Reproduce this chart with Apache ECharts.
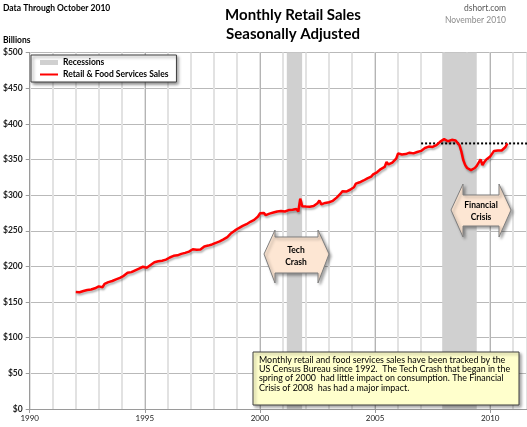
<!DOCTYPE html>
<html>
<head>
<meta charset="utf-8">
<script src="https://cdn.jsdelivr.net/npm/echarts@6/dist/echarts.min.js"></script>
<style>
  html, body { margin: 0; padding: 0; background: #fff; }
  #main { width: 527px; height: 427px; }
</style>
</head>
<body>
<div id="main"></div>
<script>
// monthly retail & food services sales, billions, SA — Jan 1992 .. Oct 2010
const startYear = 1992
const salesValues = [
  164.1, 164.3, 163.8, 164.7, 165.5, 166.0, 166.9, 166.7, 167.6, 169.2, 169.3, 171.0, // 1992
  172.0, 174.5, 170.8, 175.5, 177.0, 178.0, 178.8, 179.5, 180.5, 181.8, 183.0, 184.0, // 1993
  185.5, 186.8, 189.5, 191.0, 190.5, 192.0, 192.5, 194.5, 195.5, 197.0, 198.2, 199.5, // 1994
  200.6, 198.0, 200.5, 202.0, 203.5, 205.8, 206.2, 207.2, 207.8, 208.0, 208.9, 209.5, // 1995
  210.0, 212.5, 213.5, 214.8, 215.8, 215.5, 216.8, 217.6, 218.2, 219.0, 220.3, 220.8, // 1996
  222.5, 224.0, 225.4, 223.5, 221.8, 223.8, 226.5, 228.0, 228.5, 229.2, 230.0, 230.8, // 1997
  231.8, 233.0, 233.6, 235.0, 236.5, 237.8, 239.5, 241.0, 243.5, 246.5, 248.5, 250.5, // 1998
  252.5, 253.8, 255.3, 256.8, 258.0, 259.2, 260.8, 262.6, 264.5, 265.3, 267.5, 270.0, // 1999
  274.5, 276.0, 275.0, 272.0, 272.5, 274.0, 274.8, 275.5, 277.5, 277.0, 276.5, 277.8, // 2000
  278.5, 277.0, 277.5, 279.0, 280.0, 279.5, 279.8, 280.5, 277.0, 295.0, 284.5, 282.5, // 2001
  284.0, 284.5, 283.8, 285.5, 284.6, 286.0, 288.5, 292.5, 287.0, 287.8, 289.0, 290.5, // 2002
  290.0, 288.5, 292.0, 294.5, 296.5, 298.0, 302.0, 305.5, 304.5, 305.0, 306.8, 307.5, // 2003
  309.5, 311.0, 316.0, 315.5, 318.0, 316.5, 320.5, 320.0, 323.5, 325.0, 326.0, 329.0, // 2004
  329.0, 332.0, 334.0, 336.5, 335.5, 339.5, 346.5, 343.0, 343.5, 345.5, 347.5, 351.0, // 2005
  358.5, 356.5, 357.0, 358.0, 357.5, 357.0, 359.5, 360.0, 358.5, 358.0, 360.5, 362.5, // 2006
  362.0, 363.5, 366.0, 365.0, 368.0, 366.5, 367.5, 368.5, 370.0, 371.0, 375.0, 373.5, // 2007
  378.5, 377.0, 375.5, 376.0, 377.5, 378.0, 376.5, 375.0, 370.0, 361.0, 349.0, 342.0, // 2008
  338.0, 337.0, 335.0, 337.0, 338.0, 341.0, 340.0, 350.0, 342.0, 346.5, 350.0, 351.5, // 2009
  354.0, 355.5, 362.0, 364.5, 362.5, 361.0, 362.5, 364.5, 367.5, 372.5              // 2010
]

const recessionStarts = [2001.167, 2007.917]
const recessionEnds = [2001.833, 2009.417]

// dotted reference level (latest reading)
const levelValue = 372.5
const levelFrom = 2007.0

const xMin = 1990
const xMax = 2011.6
const yMax = 500

const FONT = 'Lato, "Liberation Sans", sans-serif'

const salesData = salesValues.map((v, i) => [startYear + i / 12, v])

function arrowPoints(l, r, headW, yTip, headTop, headBot, bodyTop, bodyBot) {
  return [
    [l, yTip], [l + headW, headTop], [l + headW, bodyTop],
    [r - headW, bodyTop], [r - headW, headTop], [r, yTip],
    [r - headW, headBot], [r - headW, bodyBot],
    [l + headW, bodyBot], [l + headW, headBot]
  ]
}

const shapeShadow = {
  shadowColor: 'rgba(0, 0, 0, 0.35)',
  shadowBlur: 3,
  shadowOffsetX: 2,
  shadowOffsetY: 2
}

const chart = echarts.init(document.getElementById('main'))

chart.setOption({
  animation: false,
  textStyle: { fontFamily: FONT },
  grid: {
    left: 26,
    right: 0,
    top: 52.5,
    bottom: 18,
    containLabel: false
  },
  legend: {
    orient: 'vertical',
    left: 31,
    top: 55,
    backgroundColor: '#fff',
    borderColor: '#3f3f3f',
    borderWidth: 1,
    borderRadius: 0,
    shadowColor: 'rgba(0, 0, 0, 0.45)',
    shadowBlur: 3,
    shadowOffsetX: 2,
    shadowOffsetY: 2,
    padding: [3, 8, 3, 8],
    itemGap: 3,
    itemWidth: 18,
    itemHeight: 5,
    textStyle: {
      fontFamily: FONT,
      fontSize: 8.5,
      fontWeight: 'bold',
      color: '#000'
    },
    data: [
      { name: 'Recessions', icon: 'rect' },
      { name: 'Retail & Food Services Sales', itemStyle: { opacity: 0 } }
    ]
  },
  xAxis: [
    {
      // yearly light gridlines
      type: 'value',
      position: 'top',
      min: xMin,
      max: xMax,
      interval: 1,
      axisLine: { show: false },
      axisTick: { show: false },
      axisLabel: { show: false },
      splitLine: {
        show: true,
        lineStyle: { color: '#e2e2e2', width: 2 }
      }
    },
    {
      type: 'value',
      position: 'bottom',
      min: xMin,
      max: xMax,
      interval: 5,
      axisLine: {
        show: true,
        lineStyle: { color: '#9a9a9a', width: 1 }
      },
      axisTick: {
        show: true,
        length: 4,
        lineStyle: { color: '#9a9a9a' }
      },
      axisLabel: {
        fontFamily: FONT,
        fontSize: 8,
        color: '#222',
        margin: 5,
        showMaxLabel: false,
        formatter: v => (v % 5 === 0 ? String(v) : '')
      },
      splitLine: {
        show: true,
        showMaxLine: false,
        lineStyle: { color: '#b4b4b4', width: 1 }
      }
    }
  ],
  yAxis: {
    type: 'value',
    min: 0,
    max: yMax,
    interval: 50,
    axisLine: {
      show: true,
      lineStyle: { color: '#9a9a9a' }
    },
    axisTick: {
      show: true,
      length: 4,
      lineStyle: { color: '#9a9a9a' }
    },
    axisLabel: {
      fontFamily: FONT,
      fontSize: 8.5,
      fontWeight: 'bold',
      color: '#222',
      margin: 7,
      formatter: v => '$' + v
    },
    splitLine: {
      lineStyle: { color: '#b9b9b9', width: 1 }
    }
  },
  series: [
    {
      name: 'Recessions',
      type: 'line',
      xAxisIndex: 1,
      data: [],
      itemStyle: { color: '#d0d0d0' },
      lineStyle: { color: '#d0d0d0' },
      markArea: {
        silent: true,
        itemStyle: { color: '#d0d0d0', opacity: 1 },
        data: recessionStarts.map((s, i) => [{ xAxis: s }, { xAxis: recessionEnds[i] }])
      },
      z: 1
    },
    {
      name: 'Latest level',
      type: 'line',
      xAxisIndex: 1,
      data: [[levelFrom, levelValue], [xMax, levelValue]],
      symbol: 'none',
      silent: true,
      lineStyle: { color: '#000', width: 2, type: [2, 2] },
      z: 3
    },
    {
      name: 'Retail & Food Services Sales',
      type: 'line',
      xAxisIndex: 1,
      data: salesData,
      symbol: 'none',
      itemStyle: { color: '#ff0000' },
      lineStyle: {
        color: '#ff0000',
        width: 2.5,
        shadowColor: 'rgba(0, 0, 0, 0.3)',
        shadowBlur: 2,
        shadowOffsetX: 1,
        shadowOffsetY: 2
      },
      z: 4
    }
  ],
  graphic: [
    {
      type: 'text', x: 3, y: 8,
      style: { text: 'Data Through October 2010', fill: '#000', font: 'bold 8.5px ' + FONT, verticalAlign: 'middle' }
    },
    {
      type: 'text', x: 293, y: 15,
      style: { text: 'Monthly Retail Sales', fill: '#000', font: 'bold 15px ' + FONT, align: 'center', verticalAlign: 'middle' }
    },
    {
      type: 'text', x: 293, y: 34,
      style: { text: 'Seasonally Adjusted', fill: '#000', font: 'bold 15px ' + FONT, align: 'center', verticalAlign: 'middle' }
    },
    {
      type: 'text', x: 506, y: 8,
      style: { text: 'dshort.com', fill: '#595959', font: '8.5px ' + FONT, align: 'right', verticalAlign: 'middle' }
    },
    {
      type: 'text', x: 506, y: 20,
      style: { text: 'November 2010', fill: '#8c8c8c', font: '8.5px ' + FONT, align: 'right', verticalAlign: 'middle' }
    },
    {
      type: 'text', x: 3, y: 40,
      style: { text: 'Billions', fill: '#000', font: 'bold 8.5px ' + FONT, verticalAlign: 'middle' }
    },
    // Tech Crash double arrow
    {
      type: 'polygon',
      z: 100,
      shape: { points: arrowPoints(264, 329, 11, 254, 230, 283, 237, 273) },
      style: Object.assign({ fill: '#fde6d3', stroke: '#7f7f7f', lineWidth: 1 }, shapeShadow)
    },
    {
      type: 'text', x: 296, y: 250, z: 101,
      style: { text: 'Tech', fill: '#000', font: 'bold 8.5px ' + FONT, align: 'center', verticalAlign: 'middle' }
    },
    {
      type: 'text', x: 296, y: 262, z: 101,
      style: { text: 'Crash', fill: '#000', font: 'bold 8.5px ' + FONT, align: 'center', verticalAlign: 'middle' }
    },
    // Financial Crisis double arrow
    {
      type: 'polygon',
      z: 100,
      shape: { points: arrowPoints(451, 511, 12, 210, 184, 237, 195, 226) },
      style: Object.assign({ fill: '#fde6d3', stroke: '#7f7f7f', lineWidth: 1 }, shapeShadow)
    },
    {
      type: 'text', x: 481, y: 205, z: 101,
      style: { text: 'Financial', fill: '#000', font: 'bold 8.5px ' + FONT, align: 'center', verticalAlign: 'middle' }
    },
    {
      type: 'text', x: 481, y: 217, z: 101,
      style: { text: 'Crisis', fill: '#000', font: 'bold 8.5px ' + FONT, align: 'center', verticalAlign: 'middle' }
    },
    // note box
    {
      type: 'rect',
      z: 100,
      shape: { x: 253, y: 352, width: 266, height: 53 },
      style: Object.assign({ fill: '#ffffcc', stroke: '#404040', lineWidth: 1 }, shapeShadow)
    },
    {
      type: 'text', x: 259, y: 355.5, z: 101,
      style: {
        text: 'Monthly retail and food services sales have been tracked by the\n' +
          'US Census Bureau since 1992.  The Tech Crash that began in the\n' +
          'spring of 2000  had little impact on consumption. The Financial\n' +
          'Crisis of 2008  has had a major impact.',
        fill: '#000',
        font: '8.9px ' + FONT,
        lineHeight: 9.2
      }
    }
  ]
})
</script>
</body>
</html>
